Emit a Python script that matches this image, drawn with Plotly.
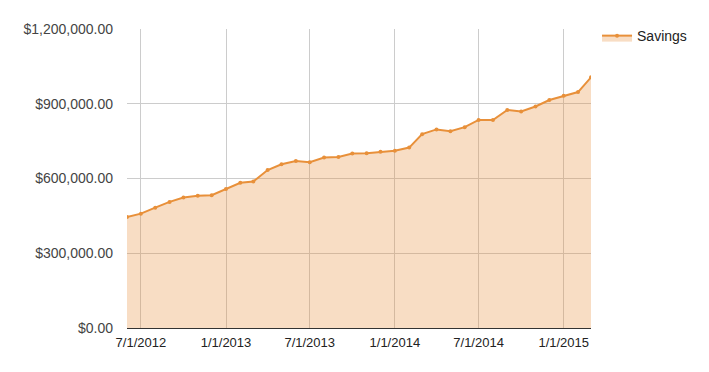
import plotly.graph_objects as go

dates = ["2012-06-01", "2012-07-01", "2012-08-01", "2012-09-01", "2012-10-01", "2012-11-01",
         "2012-12-01", "2013-01-01", "2013-02-01", "2013-03-01", "2013-04-01", "2013-05-01",
         "2013-06-01", "2013-07-01", "2013-08-01", "2013-09-01", "2013-10-01", "2013-11-01",
         "2013-12-01", "2014-01-01", "2014-02-01", "2014-03-01", "2014-04-01", "2014-05-01",
         "2014-06-01", "2014-07-01", "2014-08-01", "2014-09-01", "2014-10-01", "2014-11-01",
         "2014-12-01", "2015-01-01", "2015-02-01", "2015-03-01"]
savings = [445000, 459000, 483000, 506000, 524000, 531000,
           533000, 558000, 583000, 588000, 634000, 657000,
           670000, 665000, 684000, 686000, 700000, 701000,
           707000, 711000, 724000, 778000, 797000, 790000,
           806000, 835000, 835000, 875000, 869000, 889000,
           915000, 932000, 947000, 1006000]

tick_vals = ["2012-07-01", "2013-01-01", "2013-07-01", "2014-01-01", "2014-07-01", "2015-01-01"]
tick_text = ["7/1/2012", "1/1/2013", "7/1/2013", "1/1/2014", "7/1/2014", "1/1/2015"]
y_ticks = [0, 300000, 600000, 900000, 1200000]

color = "#E8903A"

fig = go.Figure()
fig.add_trace(go.Scatter(
    x=dates, y=savings, name="Savings", mode="lines+markers",
    line=dict(color=color, width=2),
    marker=dict(color=color, size=4),
    fill="tozeroy", fillcolor="rgba(232,144,58,0.3)",
))

fig.update_layout(
    width=701, height=364,
    margin=dict(l=119, r=118, t=21, b=44),
    paper_bgcolor="white", plot_bgcolor="white",
    font=dict(family="Liberation Sans, Arial, sans-serif", size=13, color="#222"),
    showlegend=True,
    legend=dict(x=1.013, y=1.03, xanchor="left", yanchor="top",
                font=dict(size=14, color="#222"), bgcolor="rgba(0,0,0,0)"),
    xaxis=dict(
        type="date", range=["2012-06-01", "2015-03-01"],
        tickvals=tick_vals, ticktext=tick_text,
        showgrid=True, gridcolor="#cccccc", gridwidth=1,
        showline=True, linecolor="#333333", linewidth=1,
        ticks="", tickfont=dict(size=13, color="#222"),
        ticklabelstandoff=2,
        zeroline=False,
    ),
    yaxis=dict(
        range=[0, 1200000], tickvals=y_ticks, tickformat="$,.2f",
        showgrid=True, gridcolor="#cccccc", gridwidth=1,
        zeroline=False, showline=False, ticks="",
        tickfont=dict(size=14, color="#444"),
        ticklabelstandoff=13,
    ),
)

fig.write_html("out.html")
